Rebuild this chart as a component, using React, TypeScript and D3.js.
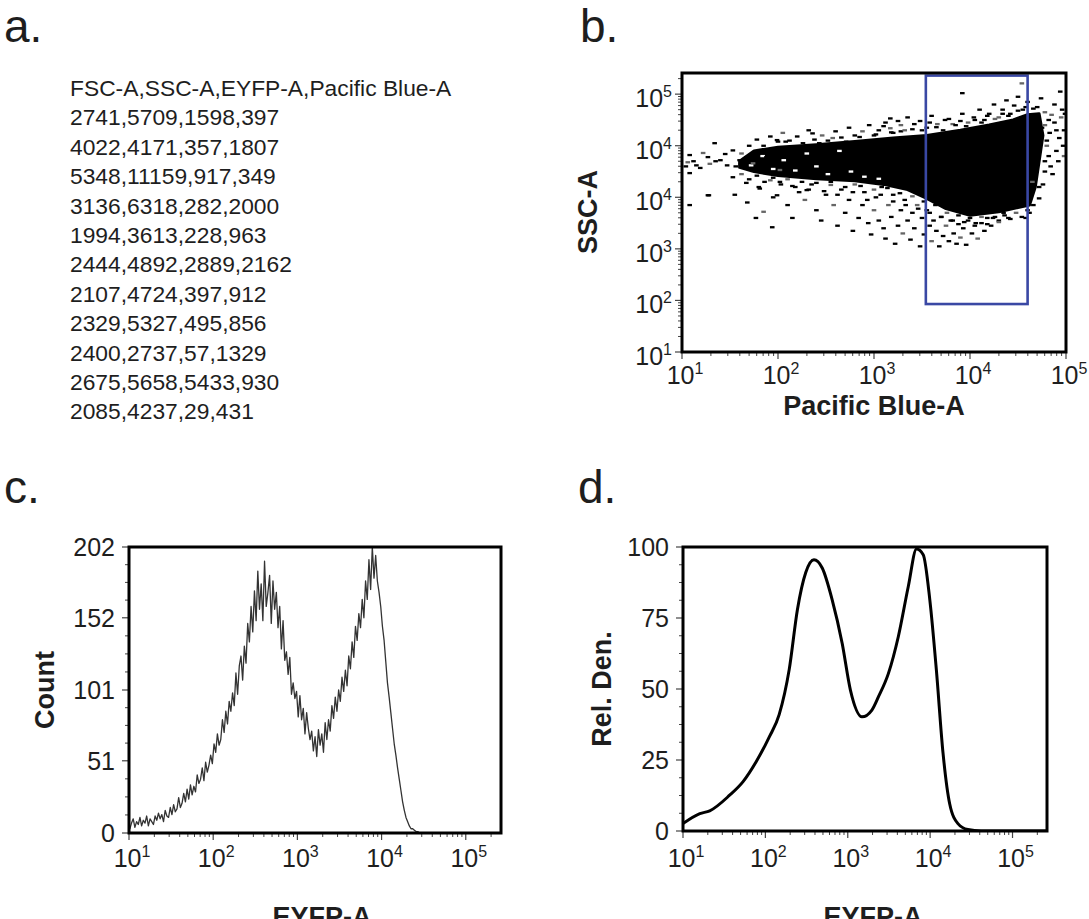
import * as d3 from "d3";

const FONT = "'Liberation Sans', Arial, Helvetica, sans-serif";
const INK = "#1e1e1e";

// ---- panel a: raw event export ----
const csvHeader = "FSC-A,SSC-A,EYFP-A,Pacific Blue-A";
const csvRows = [
  "2741,5709,1598,397",
  "4022,4171,357,1807",
  "5348,11159,917,349",
  "3136,6318,282,2000",
  "1994,3613,228,963",
  "2444,4892,2889,2162",
  "2107,4724,397,912",
  "2329,5327,495,856",
  "2400,2737,57,1329",
  "2675,5658,5433,930",
  "2085,4237,29,431",
];

// ---- panel b: SSC-A vs Pacific Blue-A (values are log10 of channel) ----
const bXTickExp = [1, 2, 3, 4, 5];
const bYTickExp = [1, 2, 3, 4, 4, 5]; // exponents as printed on the original axis
// outline of the saturated (solid black) part of the dot plot
const bCore: [number, number][] = [
  [1.6, 4.7], [1.75, 4.9], [2.0, 4.97], [2.4, 5.02], [2.8, 5.08], [3.2, 5.15],
  [3.55, 5.2], [3.9, 5.3], [4.2, 5.4], [4.45, 5.5], [4.6, 5.6], [4.72, 5.62],
  [4.76, 5.2], [4.72, 4.7], [4.68, 4.2], [4.62, 3.85],
  [4.3, 3.72], [4.0, 3.65], [3.75, 3.78], [3.55, 3.98], [3.35, 4.15], [3.1, 4.25],
  [2.8, 4.32], [2.4, 4.36], [2.0, 4.42], [1.75, 4.5], [1.6, 4.58],
];
// unfilled gaps inside the left, thinner part of the band
const bGaps: [number, number][] = [
  [1.72, 4.62], [1.84, 4.8], [1.95, 4.55], [2.06, 4.72], [2.18, 4.52], [2.3, 4.85],
  [2.4, 4.6], [2.52, 4.45], [2.64, 4.9], [2.76, 4.5], [2.9, 4.4], [3.05, 4.36],
];
// individual events around the solid region
const bDots: [number, number][] = [
  // left tail
  [1.06, 4.68], [1.08, 4.82], [1.08, 4.47], [1.19, 4.57], [1.27, 4.78], [1.34, 5.05],
  [1.29, 4.65], [1.4, 4.72], [1.47, 4.62], [1.53, 4.91], [1.6, 4.72], [1.67, 4.78],
  [1.74, 4.66], [1.78, 4.84], [1.81, 4.72], [1.88, 4.78], [1.99, 5.11], [2.08, 5.08],
  [2.02, 4.53], [1.27, 4.04], [1.08, 3.85], [1.53, 4.39], [1.67, 4.28], [1.81, 4.17],
  [1.92, 4.33], [1.99, 4.04], [2.15, 4.22], [2.3, 4.14], [2.36, 5.24], [2.43, 5.05],
  [2.57, 5.15], [2.71, 5.08], [2.85, 5.17], [3.0, 5.2], [3.17, 5.53], [2.94, 5.06],
  [3.17, 5.34], [3.28, 5.28], [1.28, 4.04], [1.77, 3.6], [1.94, 3.42], [1.12, 4.7],
  [1.22, 4.86], [1.45, 4.84], [1.56, 4.6], [1.04, 4.6], [1.15, 4.62], [1.35, 4.7],
  // fuzz above the band
  [1.62, 4.85], [1.7, 5.0], [1.78, 5.12], [1.85, 5.0], [1.92, 5.18], [2.0, 5.08],
  [2.05, 5.25], [2.12, 5.1], [2.2, 5.18], [2.26, 5.05], [2.32, 5.3], [2.38, 5.12],
  [2.46, 5.2], [2.52, 5.1], [2.6, 5.28], [2.66, 5.16], [2.74, 5.35], [2.8, 5.2],
  [2.88, 5.28], [2.95, 5.4], [3.02, 5.22], [3.1, 5.38], [3.18, 5.26], [3.25, 5.48],
  [3.32, 5.3], [3.42, 5.42], [3.5, 5.3], [3.58, 5.45], [3.65, 5.36], [3.74, 5.5],
  [3.82, 5.42], [3.9, 5.48], [3.96, 5.38], [4.05, 5.5], [4.12, 5.45], [4.18, 5.58],
  [4.26, 5.52], [4.34, 5.62], [4.4, 5.58], [4.5, 5.68], [4.58, 5.75], [4.66, 5.72],
  // fuzz below the band
  [1.62, 4.45], [1.7, 4.35], [1.78, 4.42], [1.86, 4.3], [1.95, 4.38], [2.03, 4.25],
  [2.1, 4.35], [2.18, 4.2], [2.25, 4.3], [2.32, 4.15], [2.4, 4.28], [2.48, 4.12],
  [2.55, 4.24], [2.62, 4.05], [2.7, 4.2], [2.78, 4.1], [2.86, 4.22], [2.93, 3.95],
  [3.0, 4.15], [3.07, 4.05], [3.14, 4.18], [3.2, 3.92], [3.27, 4.08], [3.33, 3.85],
  [3.4, 4.02], [3.46, 3.78], [3.52, 3.92], [3.58, 3.7], [3.64, 3.85], [3.7, 3.62],
  [3.76, 3.7], [3.82, 3.55], [3.88, 3.65], [3.94, 3.52], [4.0, 3.6], [4.06, 3.5],
  [4.12, 3.62], [4.18, 3.48], [4.24, 3.6], [4.3, 3.55], [4.36, 3.65], [4.42, 3.58],
  [4.48, 3.7], [4.54, 3.62], [4.6, 3.75],
  // sparse events below the band
  [1.55, 4.05], [1.68, 3.9], [1.8, 4.2], [1.85, 3.72], [1.95, 4.0], [2.02, 4.3],
  [2.1, 3.85], [2.15, 3.6], [2.22, 4.1], [2.28, 3.95], [2.35, 4.25], [2.4, 3.75],
  [2.45, 3.55], [2.5, 4.05], [2.55, 4.3], [2.58, 3.85], [2.62, 3.45], [2.66, 4.15],
  [2.7, 3.7], [2.74, 3.95], [2.78, 3.35], [2.8, 4.25], [2.84, 3.6], [2.88, 3.85],
  [2.9, 4.1], [2.94, 3.5], [2.97, 3.28], [3.0, 3.75], [3.02, 4.0], [3.05, 3.55],
  [3.08, 4.2], [3.1, 3.4], [3.12, 3.2], [3.15, 3.85], [3.18, 3.62], [3.2, 4.05],
  [3.22, 3.1], [3.25, 3.45], [3.28, 3.75], [3.3, 3.3], [3.32, 3.95], [3.35, 3.55],
  [3.38, 3.18], [3.4, 3.7], [3.42, 3.4], [3.45, 3.85], [3.48, 3.05], [3.5, 3.6],
  [3.52, 3.28], [3.55, 3.75], [3.58, 3.45], [3.6, 3.15], [3.62, 3.55], [3.65, 3.35],
  [3.68, 3.05], [3.7, 3.62], [3.72, 3.25], [3.75, 3.45], [3.78, 3.15], [3.8, 3.55],
  [3.83, 3.3], [3.86, 3.1], [3.88, 3.48], [3.9, 3.22], [3.93, 3.4], [3.96, 3.08],
  [3.98, 3.55], [4.02, 3.3], [4.05, 3.45], [4.08, 3.2], [4.12, 3.5], [4.15, 3.35],
  [4.18, 3.6], [4.22, 3.45], [4.26, 3.62], [4.3, 3.52], [4.35, 3.7], [4.4, 3.6],
  // above the core
  [3.05, 5.3], [3.12, 5.45], [3.2, 5.25], [3.28, 5.4], [3.35, 5.55], [3.4, 5.32],
  [3.48, 5.48], [3.55, 5.35], [3.6, 5.58], [3.66, 5.42], [3.72, 5.3], [3.78, 5.52],
  [3.85, 5.4], [3.92, 5.62], [3.92, 6.02], [3.98, 5.45], [4.04, 5.55], [4.1, 5.7],
  [4.15, 5.5], [4.2, 5.62], [4.25, 5.8], [4.3, 5.55], [4.34, 5.7], [4.38, 5.88],
  [4.42, 5.62], [4.46, 5.78], [4.5, 5.95], [4.54, 6.21], [4.55, 5.7], [4.6, 5.85],
  [4.64, 5.6], [4.7, 5.75], [4.74, 5.92], [4.78, 5.65], [4.82, 5.5], [4.88, 5.8],
  [4.94, 6.05], [4.96, 5.7],
  // right of the gate
  [4.62, 4.0], [4.65, 4.3], [4.68, 4.55], [4.7, 4.85], [4.72, 5.1], [4.75, 5.35],
  [4.78, 4.7], [4.8, 5.0], [4.83, 5.25], [4.86, 4.45], [4.88, 5.45], [4.9, 4.9],
  [4.93, 5.15], [4.95, 5.55], [4.98, 5.3], [4.66, 3.85], [4.62, 3.7], [4.58, 3.6],
  [4.72, 4.2], [4.78, 5.4], [4.8, 5.1], [4.82, 4.8], [4.78, 4.5], [4.76, 4.25],
  [4.72, 3.98], [4.85, 5.6], [4.9, 5.3], [4.84, 4.6], [4.92, 4.7], [4.97, 5.0],
  [4.99, 5.62], [4.98, 4.8],
];
const bGate = { x0: 3.54, x1: 4.6, y0: 1.93, y1: 6.36 };

// ---- panel c: EYFP-A histogram, bins 0.02 decade wide ----
const cStartLog = 0.97;
const cStepLog = 0.02;
const cCounts = [
  5, 9, 3, 7, 10, 4, 8, 6, 11, 5,
  9, 7, 12, 5, 10, 8, 6, 12, 9, 14,
  10, 13, 8, 16, 12, 11, 18, 13, 20, 15,
  17, 25, 18, 21, 28, 22, 31, 24, 34, 27,
  33, 29, 41, 35, 38, 46, 37, 50, 43, 48,
  55, 49, 63, 57, 70, 62, 66, 80, 71, 86,
  77, 93, 86, 99, 90, 113, 98, 118, 125, 108,
  132, 120, 148, 135, 160, 142, 171, 150, 185, 158,
  176, 150, 192, 160, 170, 182, 148, 178, 158, 170,
  145, 160, 130, 150, 122, 128, 112, 124, 98, 106,
  95, 100, 82, 97, 80, 88, 70, 85, 74, 66,
  72, 58, 68, 54, 73, 62, 70, 57, 78, 66,
  80, 72, 90, 81, 96, 86, 101, 93, 110, 100,
  115, 104, 125, 116, 135, 124, 146, 136, 155, 145,
  165, 152, 178, 165, 193, 172, 202, 180, 196, 178,
  170, 160, 146, 136, 121, 106, 96, 85, 74, 63,
  55, 46, 38, 30, 22, 16, 11, 8, 5, 3,
  3, 2, 1, 1, 0, 0,
];
const cYTicks = [0, 51, 101, 152, 202];

// ---- panel d: smoothed relative density ----
const dX = [10, 16, 21.1, 36.8, 53.3, 77.3, 112, 147, 195, 245, 309, 389, 490, 647, 855, 1077,
  1489, 1963, 2361, 3117, 4113, 5430, 6840, 8240, 9910, 11900, 14350, 17260, 21740, 28700,
  41500, 100000, 262144];
const dY = [2.6, 6.1, 7.1, 12.6, 17.3, 24.4, 33.2, 41, 57, 78, 91, 95.5, 92.6, 81.4, 66.1, 49.6,
  40.2, 42.6, 47.3, 55.5, 68.5, 86.1, 99.3, 97.3, 81.4, 56.7, 27.3, 9.6, 2.6, 0.5, 0, 0, 0];
const dYTicks = [0, 25, 50, 75, 100];

const logXTickExp = [1, 2, 3, 4, 5];
const FULL_SCALE = 262144;

function logTicks(minExp: number, maxLog: number) {
  const minor: number[] = [];
  for (let e = minExp; e <= Math.floor(maxLog); e++) {
    for (let k = 2; k <= 9; k++) {
      const l = e + Math.log10(k);
      if (l <= maxLog) minor.push(l);
    }
  }
  return minor;
}

function Pow({ x, y, e, anchor = "middle" }: { x: number; y: number; e: number; anchor?: string }) {
  return (
    <text x={x} y={y} textAnchor={anchor} fontSize={25} fill={INK} fontFamily={FONT}>
      10<tspan dy={-10} fontSize={16}>{e}</tspan>
    </text>
  );
}

function Frame({ x0, x1, y0, y1 }: { x0: number; x1: number; y0: number; y1: number }) {
  return <rect x={x0} y={y0} width={x1 - x0} height={y1 - y0} fill="none" stroke="#000" strokeWidth={3} />;
}

export default function App() {
  const B = { x0: 682, x1: 1066, y0: 73, y1: 352 };
  const C = { x0: 129, x1: 501, y0: 547, y1: 833 };
  const D = { x0: 683, x1: 1047, y0: 547, y1: 831 };

  // panel b scales (log10 units)
  const bx = d3.scaleLinear().domain([1, 5]).range([B.x0, B.x1]);
  const by = d3.scaleLinear().domain([1, 6.41]).range([B.y1, B.y0]);
  // panel c/d scales
  const cx = d3.scaleLog().domain([10, FULL_SCALE]).range([C.x0, C.x1]);
  const cy = d3.scaleLinear().domain([0, 202]).range([C.y1, C.y0]);
  const dx = d3.scaleLog().domain([10, FULL_SCALE]).range([D.x0, D.x1]);
  const dy = d3.scaleLinear().domain([0, 100]).range([D.y1, D.y0]);

  const corePath =
    d3
      .line<[number, number]>()
      .x((d) => bx(d[0]))
      .y((d) => by(d[1]))
      .curve(d3.curveLinearClosed)(bCore) || "";

  const cLine =
    d3
      .line<number>()
      .x((_, i) => cx(10 ** (cStartLog + i * cStepLog)))
      .y((d) => cy(d))(cCounts) || "";

  const dLine =
    d3
      .line<number>()
      .x((_, i) => dx(dX[i]))
      .y((d) => dy(d))
      .curve(d3.curveMonotoneX)(dY) || "";

  const maxLog = Math.log10(FULL_SCALE);
  const cdMinor = logTicks(1, maxLog);
  const bxMinor = logTicks(1, 5);
  const byMinor = logTicks(1, 6.41);

  const tickColor = "#444";

  const xLogAxis = (sx: d3.ScaleLogarithmic<number, number>, y: number, labelY: number, key: string) => (
    <g key={key}>
      {logXTickExp.map((e) => (
        <line key={"M" + e} x1={sx(10 ** e)} x2={sx(10 ** e)} y1={y} y2={y + 7} stroke={tickColor} strokeWidth={1.2} />
      ))}
      {cdMinor.map((l, i) => (
        <line key={"m" + i} x1={sx(10 ** l)} x2={sx(10 ** l)} y1={y} y2={y + 4} stroke={tickColor} strokeWidth={1} />
      ))}
      {logXTickExp.map((e) => (
        <Pow key={"L" + e} x={sx(10 ** e) + 3} y={labelY} e={e} />
      ))}
    </g>
  );

  const yLinAxis = (sy: d3.ScaleLinear<number, number>, ticks: number[], x: number, key: string) => {
    const minor: number[] = [];
    for (let i = 0; i < ticks.length - 1; i++) {
      for (let k = 1; k < 4; k++) minor.push(ticks[i] + ((ticks[i + 1] - ticks[i]) * k) / 4);
    }
    return (
      <g key={key}>
        {ticks.map((t) => (
          <line key={"M" + t} x1={x - 7} x2={x} y1={sy(t)} y2={sy(t)} stroke={tickColor} strokeWidth={1.2} />
        ))}
        {minor.map((t, i) => (
          <line key={"m" + i} x1={x - 4} x2={x} y1={sy(t)} y2={sy(t)} stroke={tickColor} strokeWidth={1} />
        ))}
        {ticks.map((t) => (
          <text key={"L" + t} x={x - 14} y={sy(t) + 9} textAnchor="end" fontSize={25} fill={INK} fontFamily={FONT}>
            {t}
          </text>
        ))}
      </g>
    );
  };

  return (
    <svg
      width={1089}
      height={919}
      style={{ position: "absolute", left: 0, top: 0, background: "#fff" }}
      fontFamily={FONT}
    >
      <defs>
        <clipPath id="clipB"><rect x={B.x0} y={B.y0} width={B.x1 - B.x0} height={B.y1 - B.y0} /></clipPath>
        <clipPath id="clipC"><rect x={C.x0} y={C.y0} width={C.x1 - C.x0} height={C.y1 - C.y0} /></clipPath>
        <clipPath id="clipD"><rect x={D.x0} y={D.y0} width={D.x1 - D.x0} height={D.y1 - D.y0} /></clipPath>
      </defs>
      <rect width={1089} height={919} fill="#fff" />

      {/* panel labels */}
      <text x={4} y={42} fontSize={46} fill={INK}>a.</text>
      <text x={580} y={42} fontSize={46} fill={INK}>b.</text>
      <text x={4} y={503} fontSize={46} fill={INK}>c.</text>
      <text x={578} y={503} fontSize={46} fill={INK}>d.</text>

      {/* panel a */}
      <g fontSize={22.8} fill={INK}>
        {[csvHeader, ...csvRows].map((row, i) => (
          <text key={i} x={70} y={96 + i * 29.4}>{row}</text>
        ))}
      </g>

      {/* panel b */}
      <g clipPath="url(#clipB)">
        <path d={corePath} fill="#000" stroke="#000" strokeWidth={3} strokeLinejoin="round" />
        {bGaps.map((p, i) => (
          <rect key={"g" + i} x={bx(p[0]) - 2.3} y={by(p[1]) - 1.1} width={4.6} height={2.3} fill="#fff" />
        ))}
        {bDots.map((p, i) => (
          <rect key={i} x={bx(p[0]) - 2.3} y={by(p[1]) - 1.1} width={4.6} height={2.3} fill={i % 6 === 0 ? "#666" : "#000"} />
        ))}
      </g>
      <rect
        x={bx(bGate.x0)}
        y={by(bGate.y1)}
        width={bx(bGate.x1) - bx(bGate.x0)}
        height={by(bGate.y0) - by(bGate.y1)}
        fill="none"
        stroke="#3a48a4"
        strokeWidth={2.6}
      />
      {bXTickExp.map((e) => (
        <line key={"bxM" + e} x1={bx(e)} x2={bx(e)} y1={B.y1} y2={B.y1 + 7} stroke={tickColor} strokeWidth={1.2} />
      ))}
      {bxMinor.map((l, i) => (
        <line key={"bxm" + i} x1={bx(l)} x2={bx(l)} y1={B.y1} y2={B.y1 + 4} stroke={tickColor} strokeWidth={1} />
      ))}
      {bXTickExp.map((e) => (
        <Pow key={"bxL" + e} x={bx(e) + 3} y={384} e={e} />
      ))}
      {bYTickExp.map((e, i) => (
        <line key={"byM" + i} x1={B.x0 - 7} x2={B.x0} y1={by(i + 1)} y2={by(i + 1)} stroke={tickColor} strokeWidth={1.2} />
      ))}
      {byMinor.map((l, i) => (
        <line key={"bym" + i} x1={B.x0 - 4} x2={B.x0} y1={by(l)} y2={by(l)} stroke={tickColor} strokeWidth={1} />
      ))}
      {bYTickExp.map((e, i) => (
        <Pow key={"byL" + i} x={672} y={by(i + 1) + 13} e={e} anchor="end" />
      ))}
      <Frame {...B} />
      <text x={874} y={415} textAnchor="middle" fontSize={27} fontWeight="bold" fill={INK}>Pacific Blue-A</text>
      <text transform="translate(588,212) rotate(-90)" dy="0.35em" textAnchor="middle" fontSize={27} fontWeight="bold" fill={INK}>SSC-A</text>

      {/* panel c */}
      <path d={cLine} fill="none" stroke="#333" strokeWidth={1.3} strokeLinejoin="round" clipPath="url(#clipC)" />
      {xLogAxis(cx, C.y1, 867, "cx")}
      {yLinAxis(cy, cYTicks, C.x0, "cy")}
      <Frame {...C} />
      <text x={322} y={926} textAnchor="middle" fontSize={27} fontWeight="bold" fill={INK}>EYFP-A</text>
      <text transform="translate(45,690) rotate(-90)" dy="0.35em" textAnchor="middle" fontSize={27} fontWeight="bold" fill={INK}>Count</text>

      {/* panel d */}
      <path d={dLine} fill="none" stroke="#000" strokeWidth={3} strokeLinejoin="round" clipPath="url(#clipD)" />
      {xLogAxis(dx, D.y1, 867, "dx")}
      {yLinAxis(dy, dYTicks, D.x0, "dy")}
      <Frame {...D} />
      <text x={873} y={926} textAnchor="middle" fontSize={27} fontWeight="bold" fill={INK}>EYFP-A</text>
      <text transform="translate(602,689) rotate(-90)" dy="0.35em" textAnchor="middle" fontSize={27} fontWeight="bold" fill={INK}>Rel. Den.</text>
    </svg>
  );
}
